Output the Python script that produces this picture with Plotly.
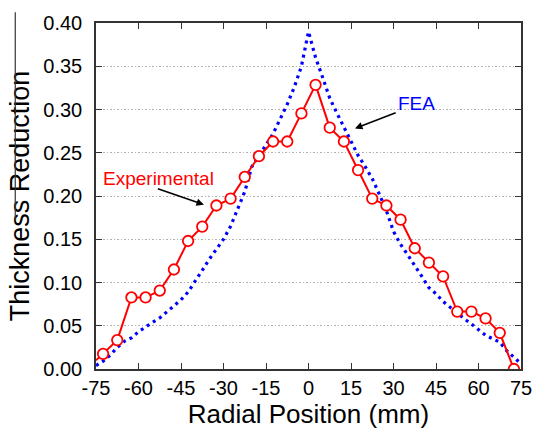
import plotly.graph_objects as go

# Experimental data (open red circles)
exp_x = [-75, -72.5, -67.5, -62.5, -57.5, -52.5, -47.5, -42.5, -37.5, -32.5, -27.5,
         -22.5, -17.5, -12.5, -7.5, -2.5, 2.5, 7.5, 12.5, 17.5, 22.5,
         27.5, 32.5, 37.5, 42.5, 47.5, 52.5, 57.5, 62.5, 67.5, 72.5]
exp_y = [0.010, 0.0175, 0.0334, 0.0827, 0.0827, 0.0907, 0.115, 0.148, 0.1646, 0.189, 0.197,
         0.222, 0.246, 0.263, 0.263, 0.2955, 0.3285, 0.279, 0.263, 0.230, 0.197,
         0.189, 0.1726, 0.1396, 0.123, 0.107, 0.0664, 0.0664, 0.0585, 0.0418, 0.0]

# FEA data (blue dotted)
fea_x = [-75, -72.5, -70, -67.5, -65, -62.5, -60, -57.5, -55, -52.5, -50, -47.5, -45,
         -42.5, -40, -37.5, -35, -32.5, -30, -27.5, -25, -22.5, -20, -17.5, -15,
         -12.5, -10, -7.5, -5, -2.5, 0, 2.5, 5, 7.5, 10, 12.5, 15, 17.5, 20, 22.5,
         25, 27.5, 30, 32.5, 35, 37.5, 40, 42.5, 45, 47.5, 50, 52.5, 55, 57.5, 60,
         62.5, 65, 67.5, 70, 72.5, 75]
fea_y = [0.004, 0.009, 0.016, 0.025, 0.032, 0.036, 0.043, 0.049, 0.054, 0.059, 0.066,
         0.073, 0.080, 0.089, 0.101, 0.114, 0.127, 0.139, 0.150, 0.165, 0.184, 0.205,
         0.234, 0.246, 0.259, 0.272, 0.289, 0.306, 0.326, 0.350, 0.390, 0.360, 0.337,
         0.313, 0.296, 0.280, 0.262, 0.247, 0.234, 0.220, 0.202, 0.183, 0.159, 0.144,
         0.132, 0.120, 0.107, 0.094, 0.087, 0.078, 0.071, 0.064, 0.058, 0.052, 0.045,
         0.039, 0.035, 0.031, 0.021, 0.013, 0.006]

x_ticks = [-75, -60, -45, -30, -15, 0, 15, 30, 45, 60, 75]
y_ticks = [0.00, 0.05, 0.10, 0.15, 0.20, 0.25, 0.30, 0.35, 0.40]

FONT = "Liberation Sans, Arial, sans-serif"

fig = go.Figure()
fig.add_trace(go.Scatter(
    x=fea_x, y=fea_y, mode="lines",
    line=dict(color="#0000ff", width=3.2, dash="3px,4.2px"),
    showlegend=False))
fig.add_trace(go.Scatter(
    x=exp_x, y=exp_y, mode="lines+markers",
    line=dict(color="#ff0000", width=2),
    marker=dict(symbol="circle", size=[0] + [10.5] * (len(exp_x) - 1), color="white",
                opacity=1, line=dict(color="#ff0000", width=1.8)),
    showlegend=False))

# Text labels and arrows
fig.add_annotation(x=-53.0, y=0.2204, text="Experimental", showarrow=False,
                   font=dict(family=FONT, size=19, color="#ff0000"))
fig.add_annotation(x=-36.9, y=0.190, ax=-53.7, ay=0.209, axref="x", ayref="y",
                   text="", showarrow=True, arrowhead=2, arrowsize=1, arrowwidth=1.5,
                   arrowcolor="black")
fig.add_annotation(x=38.2, y=0.3068, text="FEA", showarrow=False,
                   font=dict(family=FONT, size=19, color="#0000ff"))
fig.add_annotation(x=16.4, y=0.278, ax=31.3, ay=0.297, axref="x", ayref="y",
                   text="", showarrow=True, arrowhead=2, arrowsize=1, arrowwidth=1.5,
                   arrowcolor="black")

# thin stray vertical line at the far left of the original picture
fig.add_annotation(xref="paper", yref="paper", x=-0.19, y=0.4285, ax=0, ay=-210,
                   text="", showarrow=True, arrowhead=0, arrowwidth=1.2,
                   arrowcolor="#333333", standoff=0, startstandoff=0)

fig.update_layout(
    width=544, height=430,
    margin=dict(l=96, r=12, t=17, b=61),
    paper_bgcolor="white", plot_bgcolor="white",
    font=dict(family=FONT, color="black"),
)
fig.update_xaxes(
    range=[-75, 75], tickvals=x_ticks, ticktext=[str(v) for v in x_ticks],
    ticks="inside", ticklen=6, tickwidth=1.2, tickcolor="#333",
    showline=True, linecolor="#333", linewidth=1.5, mirror="ticks",
    showgrid=False, zeroline=False,
    tickfont=dict(size=20, family=FONT), ticklabelstandoff=0,
    title=dict(text="Radial Position (mm)", font=dict(size=26, family=FONT), standoff=0),
)
fig.update_yaxes(
    range=[0, 0.40], tickvals=y_ticks, ticktext=[f"{v:.2f}" for v in y_ticks],
    ticks="inside", ticklen=6, tickwidth=1.2, tickcolor="#333",
    showline=True, linecolor="#333", linewidth=1.5, mirror="ticks",
    showgrid=True, gridcolor="#b0b0b0", griddash="1.5px,2px", gridwidth=1,
    zeroline=False,
    tickfont=dict(size=20, family=FONT), ticklabelstandoff=8,
    title=dict(text="Thickness Reduction", font=dict(size=27, family=FONT), standoff=6),
)

fig.write_html("out.html")
